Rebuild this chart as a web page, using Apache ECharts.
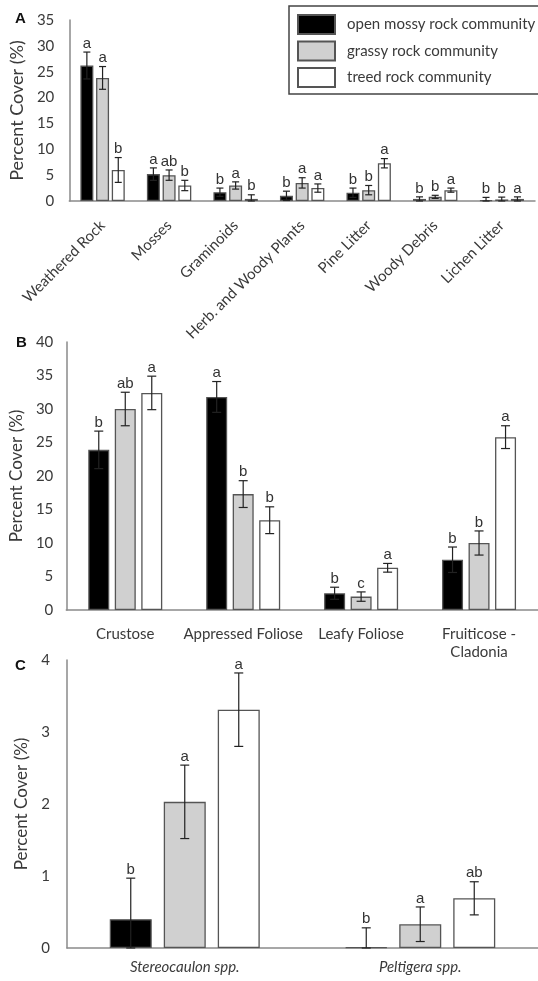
<!DOCTYPE html>
<html>
<head>
<meta charset="utf-8">
<script src="https://cdn.jsdelivr.net/npm/echarts@6/dist/echarts.min.js"></script>
<style>html,body{margin:0;padding:0;background:#fff}#c{width:538px;height:981px}</style>
</head>
<body>
<div id="c"></div>
<script>
// ---------- data ----------
const communities = ['open mossy rock community', 'grassy rock community', 'treed rock community'];

const catsA = ['Weathered Rock', 'Mosses', 'Graminoids', 'Herb. and Woody Plants', 'Pine Litter', 'Woody Debris', 'Lichen Litter'];
const openA = [26.2, 5.2, 1.7, 1.0, 1.6, 0.4, 0.15];
const openErrA = [2.6, 1.2, 0.8, 0.9, 0.9, 0.4, 0.55];
const grassyA = [23.8, 5.0, 3.0, 3.5, 2.1, 0.8, 0.3];
const grassyErrA = [2.2, 1.0, 0.7, 1.0, 0.9, 0.3, 0.45];
const treedA = [6.0, 3.0, 0.4, 2.5, 7.3, 2.1, 0.4];
const treedErrA = [2.4, 1.0, 0.8, 0.8, 0.9, 0.4, 0.4];
const openLetA = ['a', 'a', 'b', 'b', 'b', 'b', 'b'];
const grassyLetA = ['a', 'ab', 'a', 'a', 'b', 'b', 'b'];
const treedLetA = ['b', 'b', 'b', 'a', 'a', 'a', 'a'];
const ticksA = [0, 5, 10, 15, 20, 25, 30, 35];

const catsB = ['Crustose', 'Appressed Foliose', 'Leafy Foliose', 'Fruiticose -\nCladonia'];
const openB = [23.9, 31.8, 2.5, 7.5];
const openErrB = [2.8, 2.3, 0.9, 1.9];
const grassyB = [30.0, 17.3, 2.0, 10.0];
const grassyErrB = [2.5, 2.0, 0.7, 1.8];
const treedB = [32.4, 13.4, 6.3, 25.8];
const treedErrB = [2.5, 2.0, 0.65, 1.7];
const openLetB = ['b', 'a', 'b', 'b'];
const grassyLetB = ['ab', 'b', 'c', 'b'];
const treedLetB = ['a', 'b', 'a', 'a'];
const ticksB = [0, 5, 10, 15, 20, 25, 30, 35, 40];

const catsC = ['Stereocaulon spp.', 'Peltigera spp.'];
const openC = [0.40, 0.01];
const openErrC = [0.57, 0.27];
const grassyC = [2.03, 0.33];
const grassyErrC = [0.51, 0.24];
const treedC = [3.31, 0.69];
const treedErrC = [0.51, 0.23];
const openLetC = ['b', 'b'];
const grassyLetC = ['a', 'a'];
const treedLetC = ['a', 'ab'];
const ticksC = [0, 1, 2, 3, 4];

// ---------- styling / layout ----------
const fills = ['#000000', '#d0d0d0', '#ffffff'];
const textFont = 'Lato';
const textColor = '#3a3a3a';
const axisColor = '#8a8a8a';

const panels = [
  { cats: catsA, vals: [openA, grassyA, treedA], errs: [openErrA, grassyErrA, treedErrA],
    lets: [openLetA, grassyLetA, treedLetA], ticks: ticksA,
    grid: { left: 68, top: 20, width: 467, height: 181 },
    barWidth: 13, gap: 2.7, cap: 7, nameGap: 35, nameSize: 18, labMargin: 15 },
  { cats: catsB, vals: [openB, grassyB, treedB], errs: [openErrB, grassyErrB, treedErrB],
    lets: [openLetB, grassyLetB, treedLetB], ticks: ticksB,
    grid: { left: 65, top: 342, width: 476, height: 268 },
    barWidth: 21, gap: 5.5, cap: 9, nameGap: 30, nameSize: 17, labMargin: 13 },
  { cats: catsC, vals: [openC, grassyC, treedC], errs: [openErrC, grassyErrC, treedErrC],
    lets: [openLetC, grassyLetC, treedLetC], ticks: ticksC,
    grid: { left: 67, top: 660, width: 480, height: 288 },
    barWidth: 42, gap: 12, cap: 9, nameGap: 31, nameSize: 17, labMargin: 17 }
];

const grids = [], xAxes = [], yAxes = [], series = [];

panels.forEach(function (p, i) {
  grids.push(p.grid);
  const xLabel = { color: textColor, fontFamily: textFont, fontSize: 15, interval: 0 };
  if (i === 0) { xLabel.rotate = 45; xLabel.margin = 22; }
  if (i === 1) { xLabel.margin = 15; xLabel.lineHeight = 18; }
  if (i === 2) { xLabel.margin = 12; xLabel.fontStyle = 'italic'; }
  xAxes.push({
    type: 'category', gridIndex: i, data: p.cats,
    axisLine: { lineStyle: { color: axisColor, width: 1.5 } },
    axisTick: { show: false }, axisLabel: xLabel
  });
  const tk = p.ticks;
  yAxes.push({
    type: 'value', gridIndex: i, min: tk[0], max: tk[tk.length - 1], interval: tk[1] - tk[0],
    name: 'Percent Cover (%)', nameLocation: 'middle', nameGap: p.nameGap,
    nameTextStyle: { color: textColor, fontFamily: textFont, fontSize: p.nameSize },
    axisLine: { show: true, lineStyle: { color: axisColor, width: 1.5 } },
    axisTick: { show: false }, splitLine: { show: false },
    axisLabel: { color: textColor, fontFamily: textFont, fontSize: 15, margin: p.labMargin }
  });
  for (let k = 0; k < 3; k++) {
    series.push({
      type: 'bar', name: communities[k], xAxisIndex: i, yAxisIndex: i,
      data: p.vals[k], barWidth: p.barWidth, barGap: (p.gap / p.barWidth * 100) + '%',
      itemStyle: { color: fills[k], borderColor: '#555555', borderWidth: 1.3 },
      emphasis: { disabled: true }, z: 2
    });
  }
  for (let k = 0; k < 3; k++) {
    const offset = (k - 1) * (p.barWidth + p.gap);
    const data = p.vals[k].map(function (v, j) { return [j, v, p.errs[k][j], p.lets[k][j]]; });
    series.push({
      type: 'custom', xAxisIndex: i, yAxisIndex: i, data: data, z: 5, silent: true,
      renderItem: function (params, api) {
        const ci = api.value(0), m = api.value(1), e = api.value(2);
        const letter = p.lets[k][params.dataIndex];
        const hi = m + e, lo = Math.max(0, m - e);
        const pHi = api.coord([ci, hi]);
        const pLo = api.coord([ci, lo]);
        const x = pHi[0] + offset;
        const c = p.cap / 2;
        const st = { stroke: '#222', lineWidth: 1.2 };
        return {
          type: 'group',
          children: [
            { type: 'line', shape: { x1: x, y1: pHi[1], x2: x, y2: pLo[1] }, style: st },
            { type: 'line', shape: { x1: x - c, y1: pHi[1], x2: x + c, y2: pHi[1] }, style: st },
            { type: 'line', shape: { x1: x - c, y1: pLo[1], x2: x + c, y2: pLo[1] }, style: st },
            { type: 'text', x: x, y: pHi[1] - 1,
              style: { text: letter, fill: '#333', font: '15px "Liberation Sans"', align: 'center', verticalAlign: 'bottom' } }
          ]
        };
      }
    });
  }
});

const chart = echarts.init(document.getElementById('c'), null, { renderer: 'canvas' });
chart.setOption({
  animation: false,
  backgroundColor: '#ffffff',
  grid: grids, xAxis: xAxes, yAxis: yAxes, series: series,
  legend: {
    data: communities, orient: 'vertical', left: 289, top: 6,
    itemWidth: 37, itemHeight: 19, itemGap: 5.5,
    padding: [8, 4, 6, 8],
    borderColor: '#444', borderWidth: 1.5, borderRadius: 0,
    icon: 'rect', selectedMode: false,
    textStyle: { color: textColor, fontFamily: textFont, fontSize: 15, padding: [0, 0, 0, 7] }
  },
  graphic: [
    { type: 'text', left: 15, top: 11, style: { text: 'A', font: 'bold 15px "Liberation Sans"', fill: '#111' } },
    { type: 'text', left: 16, top: 335, style: { text: 'B', font: 'bold 15px "Liberation Sans"', fill: '#111' } },
    { type: 'text', left: 15, top: 658, style: { text: 'C', font: 'bold 15px "Liberation Sans"', fill: '#111' } }
  ]
});
</script>
</body>
</html>
